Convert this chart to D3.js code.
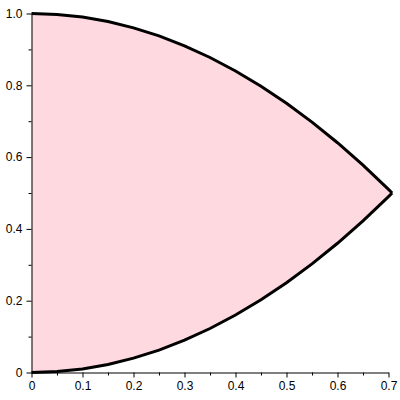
<!DOCTYPE html>
<html>
<head>
<meta charset="utf-8">
<script src="https://cdn.jsdelivr.net/npm/d3@7"></script>
<style>
  body { margin: 0; background: #fff; }
  text { font-family: "Liberation Sans", Arial, sans-serif; font-size: 12px; fill: #000; }
</style>
</head>
<body>
<div id="chart"></div>
<script>
// Values
const xs    = [0, 0.05, 0.1, 0.15, 0.2, 0.25, 0.3, 0.35, 0.4, 0.45, 0.5, 0.55, 0.6, 0.65, 0.7, 0.7071];
const upper = [1.0, 0.9975, 0.99, 0.9775, 0.96, 0.9375, 0.91, 0.8775, 0.84, 0.7975, 0.75, 0.6975, 0.64, 0.5775, 0.51, 0.5];
const lower = [0, 0.0025, 0.01, 0.0225, 0.04, 0.0625, 0.09, 0.1225, 0.16, 0.2025, 0.25, 0.3025, 0.36, 0.4225, 0.49, 0.5];

const xMajor = [0, 0.1, 0.2, 0.3, 0.4, 0.5, 0.6, 0.7];
const xMinor = [0.05, 0.15, 0.25, 0.35, 0.45, 0.55, 0.65];
const yMajor = [0, 0.2, 0.4, 0.6, 0.8, 1.0];
const yMinor = [0.1, 0.3, 0.5, 0.7, 0.9];

const width = 400, height = 400;

const svg = d3.select("#chart")
  .append("svg")
    .attr("width", width)
    .attr("height", height);

const x = d3.scaleLinear().domain([0, 0.7]).range([31.5, 388.5]);
const y = d3.scaleLinear().domain([0, 1]).range([372.5, 13.5]);

const pts = xs.map((v, i) => ({ x: v, hi: upper[i], lo: lower[i] }));

// Filled region between the curves
const area = d3.area()
  .x(d => x(d.x))
  .y0(d => y(d.lo))
  .y1(d => y(d.hi));

svg.append("path")
  .datum(pts)
  .attr("fill", "#ffd9e0")
  .attr("d", area);

// Axes
const fmt = d => d === 0 ? "0" : d3.format(".1f")(d);

svg.append("g")
  .attr("transform", "translate(0," + y(0) + ")")
  .call(d3.axisBottom(x).tickValues(xMinor).tickSize(3).tickFormat(""))
  .call(g => g.select(".domain").remove());

svg.append("g")
  .attr("transform", "translate(0," + y(0) + ")")
  .call(d3.axisBottom(x).tickValues(xMajor).tickSizeInner(5).tickSizeOuter(0).tickPadding(4).tickFormat(fmt))
  .call(g => g.selectAll("text").style("font-size", "12px"));

svg.append("g")
  .attr("transform", "translate(" + x(0) + ",0)")
  .call(d3.axisLeft(y).tickValues(yMinor).tickSize(3).tickFormat(""))
  .call(g => g.select(".domain").remove());

svg.append("g")
  .attr("transform", "translate(" + x(0) + ",0)")
  .call(d3.axisLeft(y).tickValues(yMajor).tickSizeInner(5).tickSizeOuter(0).tickPadding(4).tickFormat(fmt))
  .call(g => g.selectAll("text").style("font-size", "12px"));

// Curves
const line = key => d3.line().x(d => x(d.x)).y(d => y(d[key]));

svg.append("path")
  .datum(pts)
  .attr("fill", "none")
  .attr("stroke", "#000")
  .attr("stroke-width", 3)
  .attr("d", line("hi"));

svg.append("path")
  .datum(pts)
  .attr("fill", "none")
  .attr("stroke", "#000")
  .attr("stroke-width", 3)
  .attr("d", line("lo"));
</script>
</body>
</html>
